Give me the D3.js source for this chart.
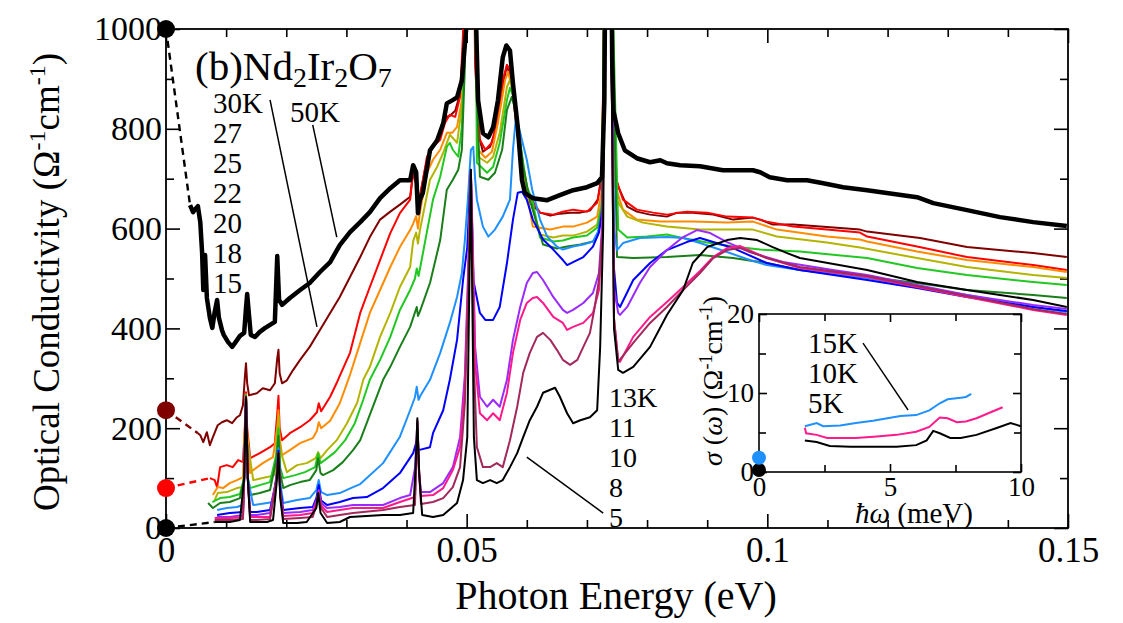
<!DOCTYPE html>
<html><head><meta charset="utf-8">
<script src="https://cdn.jsdelivr.net/npm/d3@7"></script>
<style>
body{margin:0;background:#fff}
svg{display:block}
text{font-family:"Liberation Serif","Times New Roman","DejaVu Serif",serif;fill:#000}
</style>
</head><body>
<svg id="c" width="1123" height="623" font-family="Liberation Serif, serif"></svg>
<script>
// ---------- DATA (photon energy eV, conductivity Ω^-1 cm^-1) ----------
const T50K=[[.0040,647],[.0045,633],[.0050,641],[.0053,645],[.0057,613],[.0060,553],[.0062,477],[.0065,547],[.0068,461],[.0073,421],[.0077,401],[.0081,433],[.0085,457],[.0088,421],[.0093,397],[.0096,387],[.0103,373],[.0110,363],[.0116,373],[.0123,385],[.0130,391],[.0133,440],[.0135,469],[.0138,427],[.0141,387],[.0148,383],[.0156,393],[.0165,401],[.0173,407],[.0181,413],[.0185,545],[.0188,457],[.0193,447],[.0206,461],[.0223,477],[.0239,491],[.0256,513],[.0273,533],[.0289,567],[.0306,593],[.0323,613],[.0339,633],[.0356,661],[.0373,681],[.0389,697],[.0406,697],[.0411,727],[.0416,713],[.0419,631],[.0422,657],[.0427,671],[.0439,757],[.0451,777],[.0461,811],[.0467,851],[.0476,857],[.0484,863],[.0492,897],[.0499,998],[.0503,1400],[.0513,1400],[.0516,998],[.0519,857],[.0527,791],[.0536,783],[.0544,803],[.0552,857],[.0560,943],[.0566,967],[.0572,957],[.0577,891],[.0585,803],[.0592,697],[.0597,671],[.0610,661],[.0634,657],[.0655,667],[.0677,677],[.0700,683],[.0717,691],[.0725,703],[.0729,857],[.0732,1400],[.0739,1400],[.0742,937],[.0744,837],[.0752,791],[.0763,757],[.0783,741],[.0805,733],[.0822,737],[.0833,731],[.0855,727],[.0888,725],[.0926,717],[.0976,717],[.0988,713],[.1004,703],[.1033,697],[.1066,697],[.1093,691],[.1126,683],[.1166,677],[.1249,663],[.1276,651],[.1332,637],[.1387,623],[.1442,613],[.1498,605]];
const T30K=[[.0053,190],[.0057,186],[.0062,172],[.0068,192],[.0073,166],[.0078,182],[.0086,206],[.0093,212],[.0101,216],[.0110,210],[.0118,222],[.0123,226],[.0128,246],[.0131,300],[.0133,330],[.0135,290],[.0138,266],[.0151,270],[.0161,280],[.0173,276],[.0181,290],[.0185,340],[.0187,357],[.0189,310],[.0193,290],[.0201,296],[.0211,316],[.0223,337],[.0239,363],[.0256,397],[.0273,431],[.0289,463],[.0306,503],[.0323,543],[.0339,583],[.0356,618],[.0373,634],[.0389,648],[.0406,664],[.0411,712],[.0416,690],[.0419,640],[.0422,665],[.0434,738],[.0444,764],[.0456,790],[.0467,824],[.0472,826],[.0481,836],[.0489,870],[.0494,958],[.0498,1200],[.0512,1200],[.0516,918],[.0519,792],[.0527,754],[.0539,764],[.0550,804],[.0560,884],[.0567,928],[.0575,892],[.0584,792],[.0592,712],[.0597,684],[.0602,656],[.0622,632],[.0639,626],[.0655,630],[.0672,632],[.0689,632],[.0705,636],[.0718,658],[.0726,720],[.0730,1200],[.0740,1200],[.0745,720],[.0752,684],[.0767,644],[.0783,634],[.0805,628],[.0833,624],[.0850,632],[.0876,632],[.0910,628],[.0943,618],[.0976,622],[.0988,618],[.1009,608],[.1043,608],[.1088,604],[.1154,598],[.1166,594],[.1254,581],[.1332,563],[.1442,551],[.1498,543]];
const T27K=[[.0073,100],[.0081,96],[.0085,82],[.0090,122],[.0101,126],[.0111,122],[.0120,136],[.0128,132],[.0131,200],[.0133,272],[.0135,200],[.0140,140],[.0156,150],[.0173,162],[.0181,170],[.0185,230],[.0187,265],[.0189,200],[.0193,176],[.0206,190],[.0223,202],[.0239,216],[.0251,232],[.0254,250],[.0258,234],[.0273,263],[.0284,291],[.0289,305],[.0306,351],[.0323,431],[.0339,483],[.0356,537],[.0373,591],[.0389,631],[.0406,658],[.0411,716],[.0416,690],[.0419,630],[.0422,660],[.0434,744],[.0444,764],[.0456,778],[.0464,812],[.0472,828],[.0481,824],[.0489,864],[.0494,992],[.0498,1200],[.0512,1200],[.0514,924],[.0522,778],[.0531,758],[.0542,772],[.0552,824],[.0560,898],[.0567,928],[.0572,918],[.0580,838],[.0589,744],[.0597,684],[.0605,664],[.0622,632],[.0644,628],[.0660,634],[.0677,638],[.0700,634],[.0717,652],[.0725,700],[.0730,1200],[.0740,1200],[.0747,704],[.0760,658],[.0783,638],[.0810,632],[.0833,628],[.0866,634],[.0900,632],[.0933,624],[.0976,622],[.0999,614],[.1043,604],[.1099,598],[.1154,592],[.1166,584],[.1249,564],[.1332,543],[.1442,527],[.1498,517]];
const T25K=[[.0078,66],[.0086,82],[.0095,80],[.0106,90],[.0118,96],[.0128,102],[.0131,190],[.0133,268],[.0135,190],[.0140,110],[.0145,116],[.0161,130],[.0178,142],[.0185,200],[.0187,236],[.0189,180],[.0193,146],[.0206,156],[.0223,170],[.0244,180],[.0251,195],[.0254,212],[.0258,200],[.0273,215],[.0289,250],[.0306,307],[.0323,371],[.0339,431],[.0356,477],[.0373,523],[.0389,563],[.0406,597],[.0411,610],[.0416,625],[.0419,600],[.0422,630],[.0434,712],[.0444,738],[.0456,758],[.0467,792],[.0476,792],[.0484,804],[.0492,858],[.0497,990],[.0501,1200],[.0512,1200],[.0516,900],[.0519,758],[.0531,742],[.0542,754],[.0552,812],[.0564,898],[.0569,914],[.0577,872],[.0589,744],[.0600,672],[.0610,604],[.0639,598],[.0660,604],[.0677,604],[.0700,612],[.0717,624],[.0725,680],[.0730,1200],[.0740,1200],[.0747,684],[.0760,638],[.0783,618],[.0822,614],[.0876,614],[.0933,612],[.0976,614],[.1016,598],[.1099,584],[.1154,578],[.1166,574],[.1249,554],[.1332,537],[.1442,523],[.1498,513]];
const T22K=[[.0081,56],[.0086,70],[.0101,72],[.0118,80],[.0128,82],[.0131,180],[.0133,266],[.0135,180],[.0145,96],[.0168,102],[.0181,106],[.0185,190],[.0187,225],[.0189,160],[.0201,112],[.0218,126],[.0234,130],[.0249,140],[.0253,152],[.0257,140],[.0268,156],[.0284,176],[.0301,210],[.0318,251],[.0328,297],[.0339,323],[.0356,383],[.0373,431],[.0389,483],[.0406,523],[.0411,575],[.0416,592],[.0419,570],[.0422,595],[.0439,698],[.0451,724],[.0461,752],[.0472,788],[.0484,772],[.0492,844],[.0497,990],[.0501,1200],[.0512,1200],[.0516,900],[.0519,744],[.0534,732],[.0544,744],[.0555,792],[.0567,884],[.0572,898],[.0580,858],[.0592,738],[.0602,672],[.0622,588],[.0644,582],[.0660,586],[.0677,586],[.0700,594],[.0717,608],[.0725,660],[.0730,1200],[.0740,1200],[.0749,658],[.0767,624],[.0793,612],[.0833,604],[.0888,598],[.0933,598],[.0976,598],[.1016,584],[.1099,572],[.1154,562],[.1249,541],[.1332,523],[.1442,507],[.1498,501]];
const T20K=[[.0077,52],[.0090,60],[.0106,62],[.0123,68],[.0130,100],[.0133,266],[.0136,100],[.0140,80],[.0156,86],[.0173,92],[.0184,150],[.0187,200],[.0190,120],[.0195,100],[.0215,106],[.0231,112],[.0248,122],[.0253,150],[.0257,130],[.0264,136],[.0281,152],[.0298,176],[.0314,210],[.0328,257],[.0339,297],[.0356,337],[.0373,383],[.0389,437],[.0406,477],[.0414,500],[.0417,520],[.0420,505],[.0424,530],[.0444,658],[.0456,704],[.0467,764],[.0472,772],[.0477,758],[.0486,744],[.0492,804],[.0497,960],[.0501,1200],[.0512,1200],[.0516,900],[.0517,732],[.0534,712],[.0544,724],[.0555,772],[.0567,858],[.0572,882],[.0580,858],[.0589,772],[.0600,684],[.0609,658],[.0622,582],[.0644,574],[.0660,576],[.0677,582],[.0700,586],[.0717,602],[.0725,650],[.0730,1200],[.0740,1200],[.0752,598],[.0767,582],[.0800,584],[.0833,588],[.0855,582],[.0900,572],[.0943,564],[.0988,558],[.1054,554],[.1166,541],[.1249,521],[.1332,507],[.1442,493],[.1498,487]];
const T18K=[[.0070,50],[.0078,40],[.0090,50],[.0106,52],[.0123,60],[.0130,100],[.0133,264],[.0136,100],[.0140,66],[.0156,70],[.0173,76],[.0184,140],[.0187,185],[.0190,110],[.0195,80],[.0206,86],[.0223,92],[.0239,96],[.0250,116],[.0253,140],[.0257,110],[.0261,106],[.0278,116],[.0294,132],[.0311,156],[.0323,176],[.0361,297],[.0373,323],[.0389,363],[.0406,403],[.0417,443],[.0419,425],[.0422,433],[.0439,491],[.0456,577],[.0467,678],[.0477,698],[.0486,718],[.0492,758],[.0497,924],[.0501,1200],[.0512,1200],[.0516,900],[.0522,704],[.0536,698],[.0547,712],[.0559,758],[.0567,838],[.0575,864],[.0584,824],[.0594,724],[.0605,658],[.0627,568],[.0650,560],[.0667,564],[.0689,568],[.0710,574],[.0718,588],[.0725,640],[.0730,1200],[.0740,1200],[.0750,543],[.0777,541],[.0833,543],[.0888,547],[.0943,541],[.0999,531],[.1054,517],[.1166,503],[.1249,491],[.1332,477],[.1442,467],[.1498,461]];
const T15K=[[.0085,36],[.0101,40],[.0118,42],[.0128,46],[.0130,100],[.0133,262],[.0136,100],[.0145,46],[.0168,50],[.0178,52],[.0184,110],[.0187,160],[.0190,90],[.0195,50],[.0218,56],[.0239,60],[.0250,76],[.0254,96],[.0258,72],[.0268,66],[.0289,70],[.0311,82],[.0323,88],[.0334,100],[.0361,130],[.0389,183],[.0406,236],[.0414,262],[.0417,283],[.0420,257],[.0423,265],[.0439,297],[.0456,351],[.0472,411],[.0484,463],[.0492,511],[.0497,577],[.0502,658],[.0507,758],[.0511,764],[.0514,700],[.0517,658],[.0527,604],[.0536,584],[.0547,598],[.0560,624],[.0572,658],[.0577,758],[.0582,824],[.0589,792],[.0600,738],[.0609,678],[.0622,618],[.0634,584],[.0650,564],[.0660,558],[.0677,564],[.0694,568],[.0710,574],[.0720,598],[.0726,640],[.0731,1200],[.0739,1200],[.0745,600],[.0750,557],[.0760,571],[.0788,581],[.0833,583],[.0860,581],[.0888,571],[.0933,553],[.0971,537],[.0999,527],[.1054,517],[.1166,501],[.1249,483],[.1332,467],[.1442,443],[.1498,433]];
const T13K=[[.0085,26],[.0106,30],[.0128,32],[.0130,100],[.0133,262],[.0136,100],[.0140,32],[.0151,32],[.0173,36],[.0184,100],[.0187,155],[.0190,80],[.0195,36],[.0223,40],[.0244,42],[.0250,60],[.0254,86],[.0258,55],[.0268,46],[.0289,52],[.0311,60],[.0334,62],[.0361,80],[.0389,110],[.0411,150],[.0417,175],[.0420,156],[.0439,162],[.0444,190],[.0461,236],[.0472,297],[.0484,377],[.0494,497],[.0501,563],[.0507,718],[.0511,497],[.0522,431],[.0531,417],[.0544,417],[.0555,443],[.0567,531],[.0577,618],[.0585,672],[.0592,674],[.0600,658],[.0610,618],[.0627,578],[.0644,558],[.0660,537],[.0667,527],[.0677,533],[.0694,543],[.0710,564],[.0720,592],[.0726,640],[.0731,1200],[.0739,1200],[.0745,520],[.0750,451],[.0755,443],[.0777,497],[.0805,531],[.0833,557],[.0866,573],[.0888,581],[.0910,573],[.0943,561],[.0999,531],[.1054,517],[.1166,497],[.1249,481],[.1332,463],[.1442,443],[.1498,435]];
const T11K=[[.0085,22],[.0106,22],[.0128,26],[.0130,100],[.0133,262],[.0136,100],[.0140,26],[.0151,26],[.0173,30],[.0184,100],[.0187,150],[.0190,70],[.0195,30],[.0223,32],[.0244,36],[.0250,55],[.0254,76],[.0258,50],[.0268,40],[.0289,42],[.0311,46],[.0361,46],[.0389,60],[.0406,66],[.0414,120],[.0418,212],[.0421,110],[.0424,72],[.0439,72],[.0461,90],[.0477,122],[.0489,182],[.0497,307],[.0502,497],[.0507,714],[.0512,480],[.0514,363],[.0522,263],[.0534,243],[.0544,257],[.0555,243],[.0567,297],[.0577,377],[.0589,443],[.0600,491],[.0610,511],[.0617,513],[.0627,497],[.0644,463],[.0660,437],[.0667,431],[.0677,437],[.0694,451],[.0710,471],[.0720,511],[.0726,620],[.0731,1200],[.0739,1200],[.0745,480],[.0752,431],[.0755,427],[.0767,443],[.0788,491],[.0805,523],[.0833,557],[.0860,583],[.0883,597],[.0905,591],[.0933,573],[.0971,553],[.1026,533],[.1109,517],[.1166,507],[.1249,487],[.1332,467],[.1442,447],[.1498,439]];
const T10K=[[.0081,20],[.0106,20],[.0128,22],[.0130,100],[.0133,262],[.0136,100],[.0140,22],[.0151,22],[.0173,22],[.0184,100],[.0187,150],[.0190,70],[.0195,24],[.0223,26],[.0244,30],[.0250,50],[.0254,72],[.0258,45],[.0268,32],[.0289,36],[.0311,40],[.0361,40],[.0389,52],[.0414,62],[.0416,120],[.0418,210],[.0421,110],[.0424,64],[.0444,66],[.0461,80],[.0477,116],[.0489,162],[.0497,283],[.0502,477],[.0507,714],[.0512,450],[.0514,331],[.0522,230],[.0534,216],[.0544,230],[.0555,216],[.0567,271],[.0577,351],[.0589,417],[.0600,451],[.0610,461],[.0617,463],[.0627,451],[.0644,423],[.0660,411],[.0667,397],[.0677,403],[.0694,411],[.0710,431],[.0720,477],[.0726,600],[.0731,1200],[.0739,1200],[.0745,420],[.0752,337],[.0755,333],[.0777,383],[.0805,423],[.0833,453],[.0860,483],[.0888,515],[.0910,543],[.0933,561],[.0955,565],[.0999,541],[.1054,521],[.1166,503],[.1249,483],[.1332,463],[.1442,437],[.1498,427]];
const T8K=[[.0081,16],[.0106,16],[.0128,18],[.0130,100],[.0133,262],[.0136,100],[.0140,16],[.0151,16],[.0173,18],[.0184,100],[.0187,150],[.0190,70],[.0195,18],[.0223,20],[.0244,22],[.0250,45],[.0254,70],[.0258,40],[.0268,22],[.0289,26],[.0311,30],[.0361,36],[.0389,42],[.0414,46],[.0416,120],[.0418,215],[.0421,110],[.0424,48],[.0444,52],[.0461,60],[.0477,82],[.0489,122],[.0497,251],[.0502,457],[.0507,714],[.0512,330],[.0517,162],[.0527,122],[.0539,122],[.0550,130],[.0560,122],[.0572,176],[.0584,243],[.0594,311],[.0605,351],[.0617,383],[.0627,391],[.0639,377],[.0650,357],[.0660,337],[.0672,327],[.0684,337],[.0694,363],[.0705,391],[.0713,443],[.0720,497],[.0726,600],[.0731,1200],[.0739,1200],[.0745,420],[.0752,333],[.0777,371],[.0805,411],[.0833,443],[.0860,477],[.0888,511],[.0910,541],[.0933,557],[.0955,561],[.0999,541],[.1054,523],[.1166,505],[.1249,485],[.1332,465],[.1442,439],[.1498,429]];
const T5K=[[.0081,12],[.0106,12],[.0123,16],[.0130,100],[.0133,262],[.0136,100],[.0140,12],[.0168,12],[.0178,16],[.0184,90],[.0187,150],[.0190,60],[.0195,10],[.0218,10],[.0234,12],[.0250,40],[.0253,70],[.0257,30],[.0268,10],[.0289,12],[.0306,22],[.0361,26],[.0389,26],[.0411,30],[.0415,120],[.0418,220],[.0421,110],[.0426,26],[.0444,22],[.0461,26],[.0484,50],[.0494,96],[.0501,182],[.0507,718],[.0512,182],[.0517,96],[.0527,90],[.0539,96],[.0550,90],[.0560,96],[.0572,122],[.0584,150],[.0594,182],[.0605,216],[.0617,243],[.0627,271],[.0639,277],[.0647,281],[.0655,263],[.0667,230],[.0677,210],[.0689,216],[.0705,222],[.0717,236],[.0722,363],[.0727,600],[.0731,1200],[.0739,1200],[.0745,400],[.0752,317],[.0760,311],[.0777,323],[.0805,363],[.0833,427],[.0860,477],[.0876,531],[.0900,563],[.0933,577],[.0955,581],[.0983,577],[.1009,563],[.1033,551],[.1054,541],[.1166,517],[.1249,493],[.1332,477],[.1442,457],[.1498,443]];
// DC conductivity points at zero energy
const dcPoints=[{T:"50K",v:1000},{T:"30K",v:236},{T:"27K",v:80},{T:"5K",v:0}];
// Inset (meV, Ω^-1 cm^-1)
const I15K=[[1.75,5.8],[2.2,6.2],[2.45,5.8],[3.1,5.9],[3.7,6.2],[4.35,6.5],[4.9,6.8],[5.4,7.1],[6.0,7.2],[6.5,7.8],[6.9,8.7],[7.2,9.2],[7.7,9.4],[7.9,9.5],[8.1,9.9]];
const I10K=[[1.75,5.6],[1.8,4.9],[2.2,4.7],[2.6,4.3],[3.1,4.3],[3.7,4.3],[4.5,4.5],[5.25,4.7],[6.0,5.1],[6.5,5.7],[6.9,6.9],[7.2,6.8],[7.55,6.3],[7.9,6.4],[8.3,6.8],[8.8,7.5],[9.3,8.2]];
const I5K=[[1.75,4.0],[2.2,3.8],[2.7,3.3],[3.5,3.2],[4.5,3.2],[5.25,3.2],[6.0,3.4],[6.4,4.0],[6.65,5.2],[6.9,4.9],[7.3,4.3],[7.7,4.3],[8.3,4.7],[9.1,5.6],[9.6,6.2],[10.0,5.8]];
const insetDC=[{T:"5K",v:0.25},{T:"15K",v:1.8}];
// Ticks
const xMajor=[0,0.05,0.1,0.15], xMajorLabels=["0","0.05","0.1","0.15"];
const xMinor=[0.01,0.02,0.03,0.04,0.06,0.07,0.08,0.09,0.11,0.12,0.13,0.14];
const yMajor=[0,200,400,600,800,1000], yMinor=[100,300,500,700,900];
const ixMajor=[0,5,10], ixMinor=[2.5,7.5], iyMajor=[0,10,20], iyMinor=[5,15];
const leftLabels=["30K","27","25","22","20","18","15"];
const rightLabels=["13K","11","10","8","5"];
const insetLabels=["15K","10K","5K"];

// ---------- STYLE ----------
const FONT="Liberation Serif, Times New Roman, DejaVu Serif, serif";
const colors={"50K":"#000","30K":"#800000","27K":"#ff0000","25K":"#ff8c00","22K":"#b4b400","20K":"#22c822","18K":"#1a7f1a","15K":"#1e90ff","13K":"#0000ff","11K":"#9a2bff","10K":"#ff1a8c","8K":"#a3285c","5K":"#000"};
const series=[["30K",T30K],["27K",T27K],["25K",T25K],["22K",T22K],["20K",T20K],["18K",T18K],["15K",T15K],["13K",T13K],["11K",T11K],["10K",T10K],["8K",T8K],["5K",T5K],["50K",T50K]];

const M={l:166,r:1068,t:29,b:528};
const svg=d3.select("#c");
const x=d3.scaleLinear().domain([0,0.15]).range([M.l,M.r]);
const y=d3.scaleLinear().domain([0,1000]).range([M.b,M.t]);

svg.append("defs").append("clipPath").attr("id","clip").append("rect")
  .attr("x",M.l).attr("y",M.t).attr("width",M.r-M.l).attr("height",M.b-M.t);

// axes with inward ticks
function axis(gen,tr,vals,len,labels,fs,pad){
  const a=gen.tickValues(vals).tickSizeInner(-len).tickSizeOuter(0).tickPadding(pad||6);
  if(labels) a.tickFormat((d,i)=>labels[i]); else a.tickFormat("");
  const g=svg.append("g").attr("transform",tr).call(a);
  g.attr("font-family",FONT);
  g.select(".domain").remove();
  g.selectAll("line").attr("stroke","#000").attr("stroke-width",1.6);
  g.selectAll("text").attr("font-family",FONT).attr("font-size",fs||34).attr("fill","#000");
  return g;
}
axis(d3.axisBottom(x),`translate(0,${M.b})`,xMajor,14,xMajorLabels,35,9);
axis(d3.axisBottom(x),`translate(0,${M.b})`,xMinor,8);
axis(d3.axisTop(x),`translate(0,${M.t})`,xMajor,14);
axis(d3.axisTop(x),`translate(0,${M.t})`,xMinor,8);
axis(d3.axisLeft(y),`translate(${M.l},0)`,yMajor,14,yMajor.map(String),34,4);
axis(d3.axisLeft(y),`translate(${M.l},0)`,yMinor,8);
axis(d3.axisRight(y),`translate(${M.r},0)`,yMajor,14);
axis(d3.axisRight(y),`translate(${M.r},0)`,yMinor,8);

svg.append("rect").attr("x",M.l).attr("y",M.t).attr("width",M.r-M.l).attr("height",M.b-M.t)
  .attr("fill","none").attr("stroke","#000").attr("stroke-width",1.8);

// curves
const line=d3.line().x(d=>x(d[0])).y(d=>y(d[1]));
const gc=svg.append("g").attr("clip-path","url(#clip)");
const seriesMap=Object.fromEntries(series);
dcPoints.forEach(p=>{
  const first=seriesMap[p.T][0];
  svg.append("path").attr("d",line([[0,p.v],first])).attr("fill","none")
    .attr("stroke",colors[p.T]).attr("stroke-width",2.4).attr("stroke-dasharray","7,5");
});
series.forEach(([T,data])=>{
  gc.append("path").attr("d",line(data)).attr("fill","none")
    .attr("stroke",colors[T]).attr("stroke-width",T==="50K"?4.5:2)
    .attr("stroke-linejoin","round");
});
dcPoints.forEach(p=>{
  svg.append("circle").attr("cx",x(0)).attr("cy",y(p.v)).attr("r",9).attr("fill",colors[p.T]);
});

function txt(xp,yp,fs,s){return svg.append("text").attr("x",xp).attr("y",yp).attr("font-size",fs).attr("font-family",FONT).text(s);}

// axis titles
const yt=svg.append("text").attr("transform","translate(59,282) rotate(-90)").attr("text-anchor","middle").attr("font-size",37).attr("font-family",FONT);
yt.append("tspan").text("Optical Conductivity (Ω");
yt.append("tspan").attr("font-size",24).attr("dy",-14).text("-1");
yt.append("tspan").attr("dy",14).text("cm");
yt.append("tspan").attr("font-size",24).attr("dy",-14).text("-1");
yt.append("tspan").attr("dy",14).text(")");
txt(616,609,40,"Photon Energy (eV)").attr("text-anchor","middle");

// title
const tt=svg.append("text").attr("x",195).attr("y",80).attr("font-size",41).attr("font-family",FONT);
tt.append("tspan").text("(b)Nd");
tt.append("tspan").attr("font-size",28).attr("dy",7).text("2");
tt.append("tspan").attr("dy",-7).text("Ir");
tt.append("tspan").attr("font-size",28).attr("dy",7).text("2");
tt.append("tspan").attr("dy",-7).text("O");
tt.append("tspan").attr("font-size",28).attr("dy",7).text("7");

// temperature labels
leftLabels.forEach((s,i)=>txt(213,113+i*30,29,s));
txt(290,122,29,"50K");
rightLabels.forEach((s,i)=>txt(609,407+i*30,28,s));
const leaders=[[[0.0173,858],[0.0251,403]],[[0.0244,808],[0.0284,583]],[[0.0600,142],[0.0727,30]]];
leaders.forEach(l=>svg.append("path").attr("d",line(l)).attr("stroke","#000").attr("stroke-width",1.5).attr("fill","none"));

// ---------- INSET ----------
const I={l:759,r:1021,t:314,b:472};
const xi=d3.scaleLinear().domain([0,10]).range([I.l,I.r]);
const yi=d3.scaleLinear().domain([0,20]).range([I.b,I.t]);
svg.append("rect").attr("x",I.l).attr("y",I.t).attr("width",I.r-I.l).attr("height",I.b-I.t).attr("fill","#fff");
axis(d3.axisBottom(xi),`translate(0,${I.b})`,ixMajor,8,ixMajor.map(String),27,5);
axis(d3.axisBottom(xi),`translate(0,${I.b})`,ixMinor,7);
axis(d3.axisTop(xi),`translate(0,${I.t})`,ixMajor,8);
axis(d3.axisTop(xi),`translate(0,${I.t})`,ixMinor,7);
axis(d3.axisLeft(yi),`translate(${I.l},0)`,iyMajor,8,iyMajor.map(String),27,5);
axis(d3.axisLeft(yi),`translate(${I.l},0)`,iyMinor,7);
axis(d3.axisRight(yi),`translate(${I.r},0)`,iyMajor,8);
axis(d3.axisRight(yi),`translate(${I.r},0)`,iyMinor,7);
svg.append("rect").attr("x",I.l).attr("y",I.t).attr("width",I.r-I.l).attr("height",I.b-I.t)
  .attr("fill","none").attr("stroke","#000").attr("stroke-width",1.6);
const li=d3.line().x(d=>xi(d[0])).y(d=>yi(d[1]));
[["15K",I15K],["10K",I10K],["5K",I5K]].forEach(([T,d])=>
  svg.append("path").attr("d",li(d)).attr("fill","none").attr("stroke",colors[T]).attr("stroke-width",2));
insetDC.forEach(p=>svg.append("circle").attr("cx",xi(0)).attr("cy",yi(p.v)).attr("r",7).attr("fill",colors[p.T]));
insetLabels.forEach((s,i)=>txt(808,353+i*30,29,s));
svg.append("path").attr("d",li([[3.97,16.3],[5.69,7.85]])).attr("stroke","#000").attr("stroke-width",1.4).attr("fill","none");
const iy=svg.append("text").attr("transform","translate(722,381) rotate(-90)").attr("text-anchor","middle").attr("font-size",28).attr("font-family",FONT);
iy.append("tspan").attr("font-style","italic").text("σ");
iy.append("tspan").text(" (");
iy.append("tspan").attr("font-style","italic").text("ω");
iy.append("tspan").text(") (Ω");
iy.append("tspan").attr("font-size",18).attr("dy",-10).text("-1");
iy.append("tspan").attr("dy",10).text("cm");
iy.append("tspan").attr("font-size",18).attr("dy",-10).text("-1");
iy.append("tspan").attr("dy",10).text(")");
const ix=svg.append("text").attr("x",914).attr("y",523).attr("text-anchor","middle").attr("font-size",29).attr("font-family",FONT);
ix.append("tspan").attr("font-style","italic").text("ħω");
ix.append("tspan").text(" (meV)");
</script>
</body></html>
